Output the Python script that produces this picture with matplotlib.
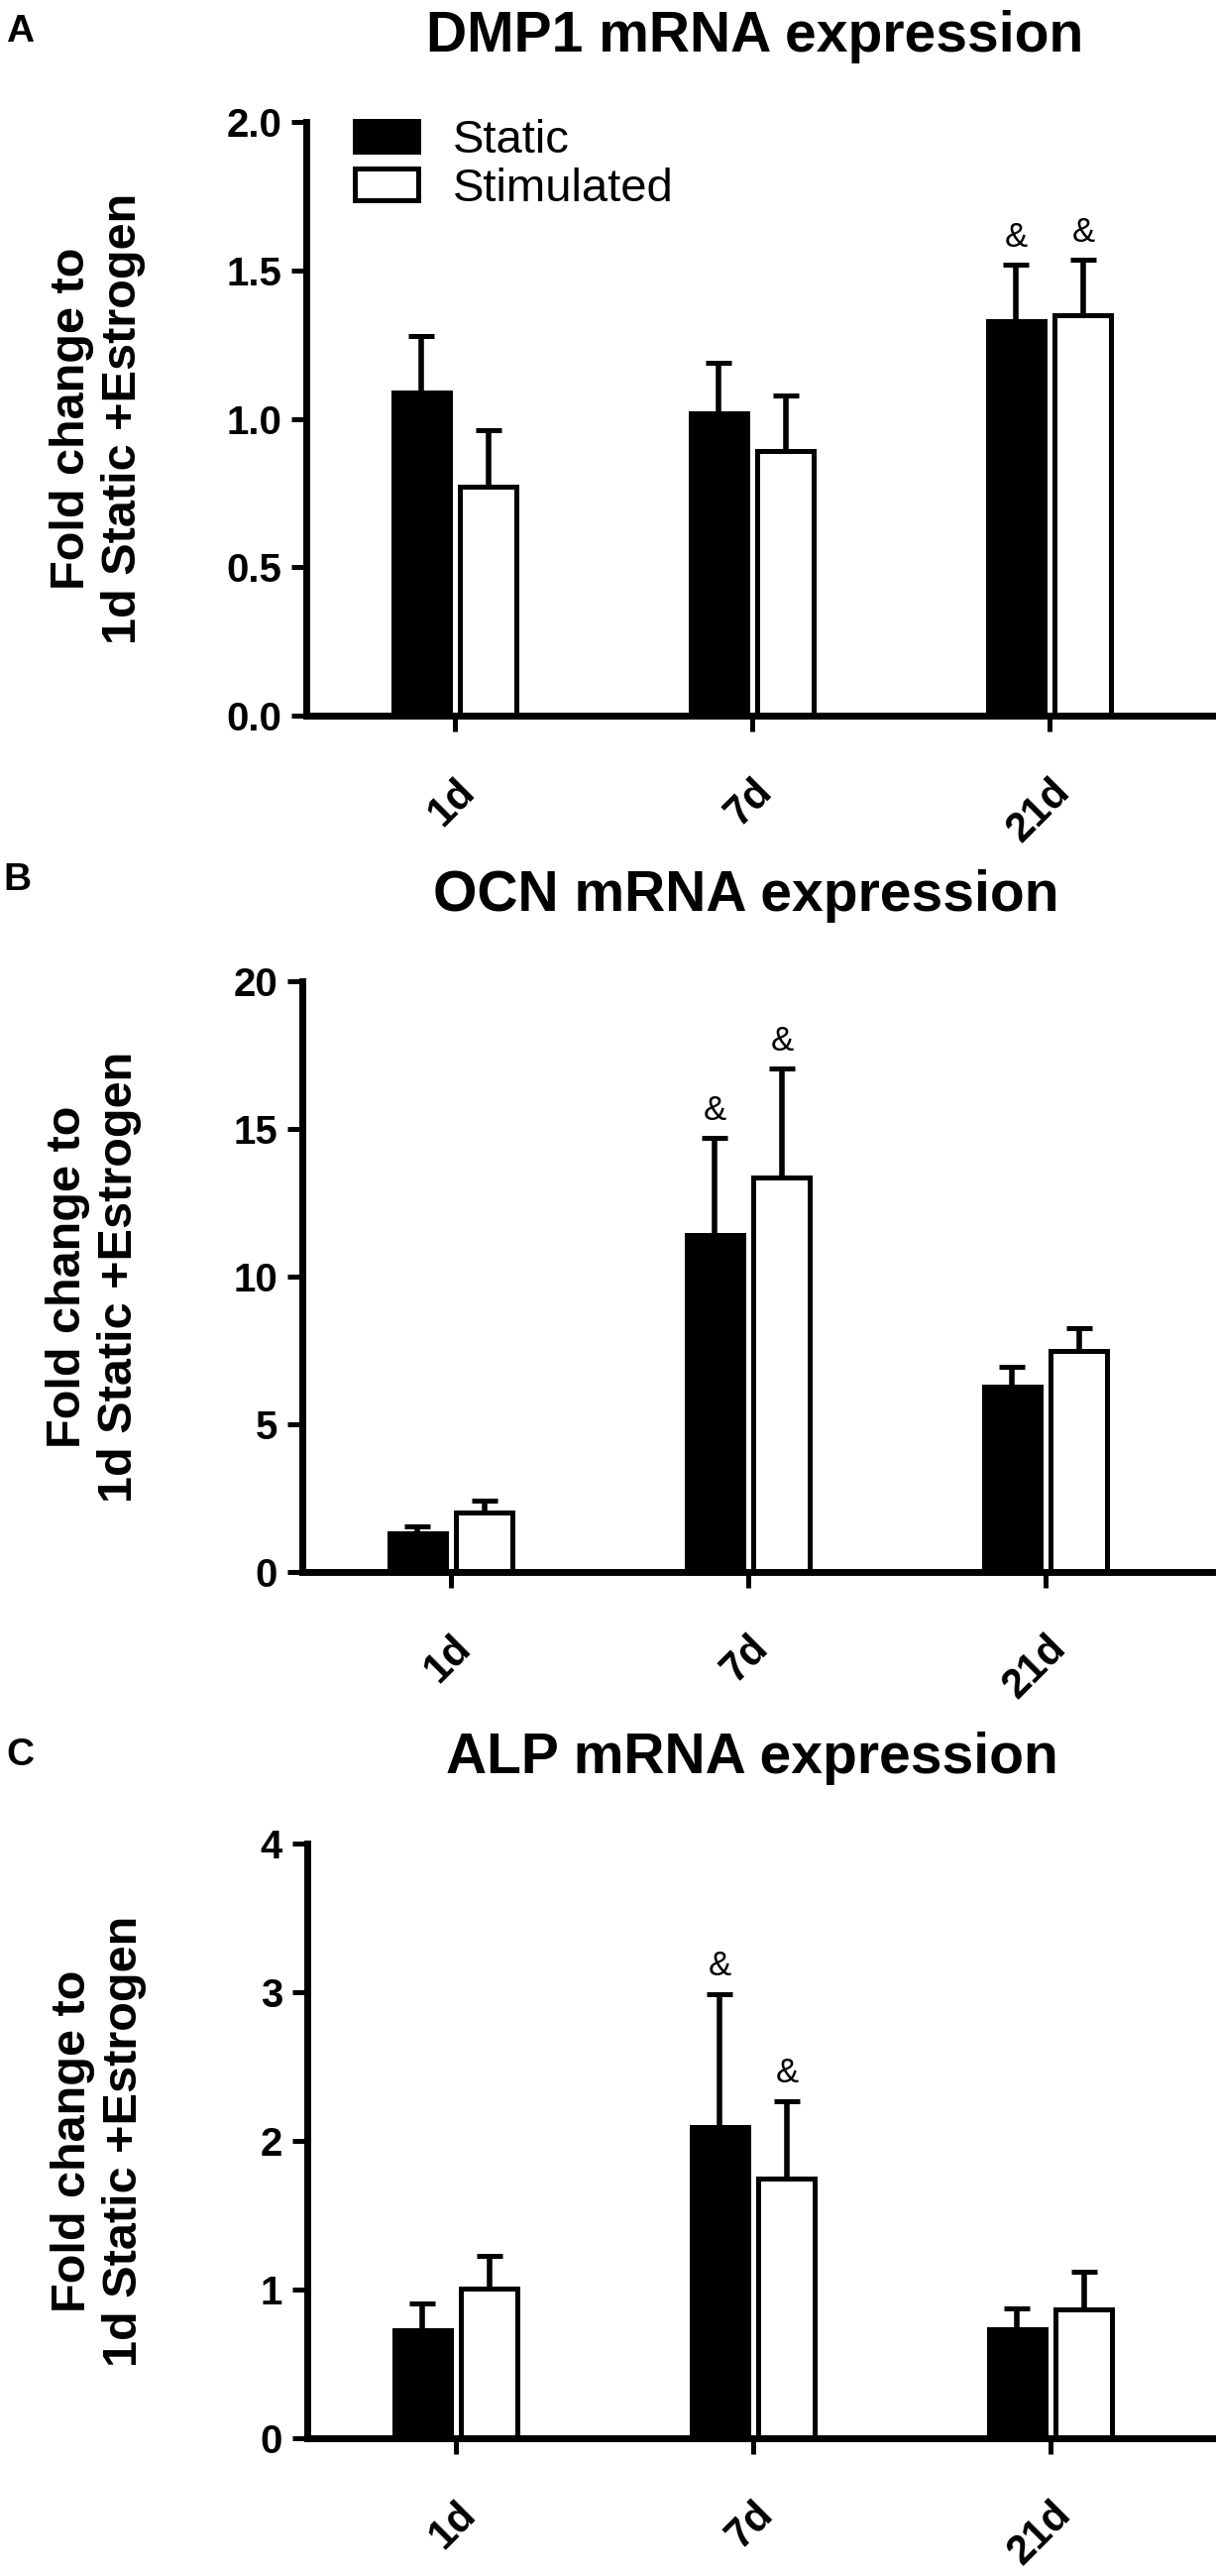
import numpy as np
import matplotlib
matplotlib.use("Agg")
import matplotlib.pyplot as plt
import matplotlib.transforms as mtransforms

plt.rcParams["font.family"] = ["Liberation Sans", "DejaVu Sans"]

# ---- data ----
categories = ["1d", "7d", "21d"]

dmp1_static = [1.09, 1.02, 1.33]
dmp1_static_err = [0.19, 0.17, 0.19]
dmp1_stim = [0.77, 0.89, 1.35]
dmp1_stim_err = [0.19, 0.19, 0.185]
dmp1_marks = [[False, False, True], [False, False, True]]

ocn_static = [1.30, 11.4, 6.28]
ocn_static_err = [0.25, 3.3, 0.66]
ocn_stim = [2.0, 13.37, 7.47]
ocn_stim_err = [0.41, 3.68, 0.78]
ocn_marks = [[False, True, False], [False, True, False]]

alp_static = [0.73, 2.095, 0.734]
alp_static_err = [0.18, 0.895, 0.14]
alp_stim = [1.01, 1.747, 0.866]
alp_stim_err = [0.22, 0.523, 0.254]
alp_marks = [[False, True, False], [False, True, False]]

titles = ["DMP1 mRNA expression", "OCN mRNA expression", "ALP mRNA expression"]
letters = ["A", "B", "C"]
yticks = [[0, 0.5, 1.0, 1.5, 2.0], [0, 5, 10, 15, 20], [0, 1, 2, 3, 4]]
yfmt = ["{:.1f}", "{:d}", "{:d}"]

panels = [
    (dmp1_static, dmp1_static_err, dmp1_stim, dmp1_stim_err, dmp1_marks),
    (ocn_static, ocn_static_err, ocn_stim, ocn_stim_err, ocn_marks),
    (alp_static, alp_static_err, alp_stim, alp_stim_err, alp_marks),
]

# ---- layout (pixels of the 1227x2599 canvas) ----
W, H = 1227, 2599
boxes = [(309, 123, 722), (305, 990, 1586), (310, 1860, 2460)]  # left, top, bottom
title_xy = [(762, 52), (753, 919), (759, 1789)]   # centre x, baseline y
letter_xy = [(6, 42), (3, 898), (6, 1781)]        # left x, baseline y
xlim = (-0.5, 2.56)
ax_w = 918

fig = plt.figure(figsize=(W / 100, H / 100), dpi=100)

x = np.arange(len(categories))
off = 0.113
bw = 0.19
lw = 3.6

for i, (s, se, m, me, marks) in enumerate(panels):
    left, top, bottom = boxes[i]
    ax = fig.add_axes([left / W, 1 - bottom / H, ax_w / W, (bottom - top) / H])

    b1 = ax.bar(x - off, s, bw, color="black", edgecolor="black", linewidth=lw,
                label="Static", zorder=2)
    b2 = ax.bar(x + off, m, bw, color="white", edgecolor="black", linewidth=lw,
                label="Stimulated", zorder=2)
    ax.errorbar(x - off, s, yerr=[np.zeros(3), se], fmt="none", ecolor="black",
                elinewidth=4, capsize=9.5, capthick=3.6, zorder=1)
    ax.errorbar(x + off, m, yerr=[np.zeros(3), me], fmt="none", ecolor="black",
                elinewidth=4, capsize=9.5, capthick=3.6, zorder=1)

    for k in range(3):
        if marks[0][k]:
            ax.annotate("&", xy=(x[k] - off, s[k] + se[k]), xytext=(0, 8),
                        textcoords="offset points", ha="center", va="bottom",
                        fontsize=25)
        if marks[1][k]:
            ax.annotate("&", xy=(x[k] + off, m[k] + me[k]), xytext=(0, 8),
                        textcoords="offset points", ha="center", va="bottom",
                        fontsize=25)

    ax.set_xlim(*xlim)
    ax.set_ylim(yticks[i][0], yticks[i][-1])
    ax.set_yticks(yticks[i])
    ax.set_yticklabels([yfmt[i].format(v) for v in yticks[i]], fontsize=29,
                       fontweight="bold")
    ax.set_xticks(x)
    ax.set_xticklabels(categories, fontsize=30, fontweight="bold", rotation=45,
                       ha="right", va="top", rotation_mode="anchor")
    shift = mtransforms.ScaledTranslation(-7 / 100, 0, fig.dpi_scale_trans)
    for lab in ax.get_xticklabels():
        lab.set_transform(lab.get_transform() + shift)

    for sp in ["top", "right"]:
        ax.spines[sp].set_visible(False)
    for sp in ["left", "bottom"]:
        ax.spines[sp].set_linewidth(5)
    ax.tick_params(axis="y", direction="out", length=11, width=3.6, pad=7)
    ax.tick_params(axis="x", direction="out", length=11.5, width=3.6, pad=29)

    ax.set_ylabel("Fold change to\n1d Static +Estrogen", fontsize=35,
                  fontweight="bold")
    ax.yaxis.set_label_coords(-162 / ax_w, 0.5)

    tx, ty = title_xy[i]
    fig.text(tx / W, 1 - ty / H, titles[i], fontsize=41, fontweight="bold",
             ha="center", va="baseline")
    lx, ly = letter_xy[i]
    fig.text(lx / W, 1 - ly / H, letters[i], fontsize=28, fontweight="bold",
             ha="left", va="baseline")

    if i == 0:
        ax.legend(handles=[b1, b2], loc="upper left",
                  bbox_to_anchor=((358 - left) / ax_w, (bottom - 120) / (bottom - top)),
                  frameon=False, fontsize=34, handlelength=1.36, handleheight=0.66,
                  handletextpad=0.74, labelspacing=0.1, borderpad=0,
                  borderaxespad=0)

fig.savefig("out.png", dpi=100)
